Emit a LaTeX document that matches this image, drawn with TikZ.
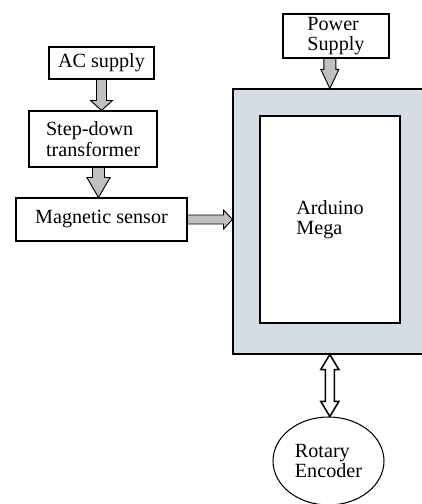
\documentclass[tikz,border=0pt]{standalone}
\usepackage{fontspec}
\setmainfont{Liberation Serif}
\usetikzlibrary{calc,shapes.geometric}
\definecolor{boardgray}{RGB}{214,220,228}
\definecolor{arrowgray}{RGB}{192,192,192}

\begin{document}
\begin{tikzpicture}[line width=0.9pt,
  every node/.style={font=\fontsize{17.2}{17.5}\selectfont},
  blk/.style={draw,fill=white,align=left,inner sep=2pt},
  fatarrow/.style={draw,fill=arrowgray,line width=0.8pt,line join=miter},
  hollowarrow/.style={draw,fill=white,line width=1.3pt,line join=miter}]
\useasboundingbox (0,0) rectangle (12.63,15.12);
% left chain
\node[blk,minimum width=3.15cm,minimum height=0.96cm] (ac) at (3.045,13.23) {AC supply};
\node[blk,minimum width=3.84cm,minimum height=1.68cm] (stepdown) at (2.79,10.95) {Step-down\\transformer};
\node[blk,minimum width=5.13cm,minimum height=1.29cm] (sensor) at (3.045,8.535) {Magnetic sensor};
% controller
\node[draw,fill=boardgray,minimum width=5.81cm,minimum height=7.95cm] (board) at (9.895,8.475) {};
\node[blk,minimum width=4.2cm,minimum height=6.21cm] (mega) at (9.9,8.535) {Arduino\\Mega};
\node[blk,minimum width=3.18cm,minimum height=1.32cm] (power) at (10.08,14.04) {Power\\Supply};
\node[draw,ellipse,align=left,minimum width=3.33cm,minimum height=2.64cm] (encoder) at (9.855,1.29) {Rotary\\Encoder};
% block arrows
\draw[fatarrow] let \p1=(ac.south), \p2=(stepdown.north -| ac.south) in
  (\x1-0.15cm,\y1) -- (\x1-0.15cm,\y2+0.3cm) -- (\x1-0.33cm,\y2+0.3cm) -- (\x1,\y2)
  -- (\x1+0.33cm,\y2+0.3cm) -- (\x1+0.15cm,\y2+0.3cm) -- (\x1+0.15cm,\y1) -- cycle;
\draw[fatarrow] let \p1=($(stepdown.south -| ac.south)+(-0.09,0)$), \p2=(sensor.north -| \p1) in
  (\x1-0.18cm,\y1) -- (\x1-0.18cm,\y2+0.6cm) -- (\x1-0.35cm,\y2+0.6cm) -- (\x1,\y2)
  -- (\x1+0.35cm,\y2+0.6cm) -- (\x1+0.18cm,\y2+0.6cm) -- (\x1+0.18cm,\y1) -- cycle;
\draw[fatarrow] let \p1=(sensor.east), \p2=(board.west) in
  (\x1,\y1-0.135cm) -- (\x2-0.27cm,\y1-0.135cm) -- (\x2-0.27cm,\y1-0.285cm) -- (\x2,\y1)
  -- (\x2-0.27cm,\y1+0.285cm) -- (\x2-0.27cm,\y1+0.135cm) -- (\x1,\y1+0.135cm) -- cycle;
\draw[fatarrow] let \p1=(power.south -| board.north), \p2=(board.north) in
  (\x1-0.18cm,\y1) -- (\x1-0.18cm,\y2+0.57cm) -- (\x1-0.27cm,\y2+0.57cm) -- (\x1,\y2)
  -- (\x1+0.27cm,\y2+0.57cm) -- (\x1+0.18cm,\y2+0.57cm) -- (\x1+0.18cm,\y1) -- cycle;
\draw[hollowarrow] let \p1=(board.south), \p2=(encoder.north -| board.south) in
  (\x1,\y1) -- (\x1+0.27cm,\y1-0.45cm) -- (\x1+0.135cm,\y1-0.45cm) -- (\x1+0.135cm,\y2+0.45cm)
  -- (\x1+0.27cm,\y2+0.45cm) -- (\x1,\y2) -- (\x1-0.27cm,\y2+0.45cm) -- (\x1-0.135cm,\y2+0.45cm)
  -- (\x1-0.135cm,\y1-0.45cm) -- (\x1-0.27cm,\y1-0.45cm) -- cycle;
\end{tikzpicture}
\end{document}
